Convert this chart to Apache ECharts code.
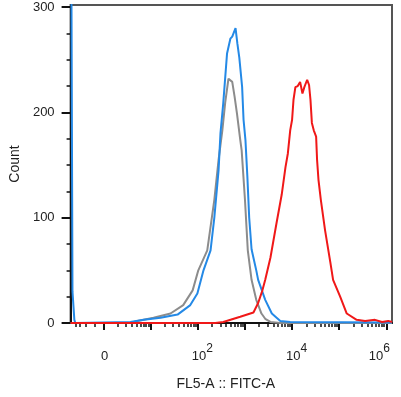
<!DOCTYPE html>
<html lang="en">
<head>
    <meta charset="UTF-8">
    <title>FITC histogram</title>
    <script src="https://cdn.jsdelivr.net/npm/echarts@6/dist/echarts.min.js"></script>
    <style>
        body { margin: 0; background: #fff; }
    </style>
</head>
<body>
    <div id="main" style="width: 401px;height:397px;"></div>
    <script type="text/javascript">
        // x is in display units of the biexponential axis: 0 -> "0", 1 -> 10^1, 2 -> 10^2 ...
        var greyData = [
            [-0.70, 0], [0.57, 0], [0.72, 2], [1.06, 5], [1.42, 9], [1.69, 17], [1.89, 31],
            [2.01, 50], [2.20, 69], [2.35, 117], [2.44, 155], [2.52, 183], [2.58, 209],
            [2.65, 232], [2.73, 229], [2.78, 215], [2.83, 199], [2.90, 174], [2.93, 164],
            [3.00, 117], [3.06, 69], [3.14, 41], [3.24, 22], [3.35, 9], [3.43, 4],
            [3.54, 1], [3.75, 0], [6.12, 0]
        ];
        var blueData = [
            [-0.69, 420], [-0.66, 30], [-0.62, 3], [-0.60, 0], [0.57, 1], [0.85, 3],
            [1.21, 5], [1.57, 8], [1.84, 17], [1.99, 28], [2.12, 50], [2.27, 69],
            [2.35, 100], [2.44, 145], [2.48, 180], [2.54, 209], [2.62, 256], [2.69, 270],
            [2.73, 272], [2.80, 280], [2.84, 265], [2.88, 252], [2.94, 224], [2.97, 193],
            [3.01, 174], [3.05, 140], [3.09, 100], [3.14, 70], [3.20, 58], [3.24, 50],
            [3.28, 41], [3.43, 22], [3.57, 9], [3.75, 2], [3.96, 1], [6.12, 0.5]
        ];
        var redData = [
            [-0.70, 0], [2.37, 0], [2.54, 1], [2.90, 6], [3.18, 10], [3.28, 19], [3.37, 31],
            [3.43, 41], [3.54, 62], [3.67, 95], [3.78, 122], [3.86, 148], [3.91, 161],
            [3.96, 183], [4.00, 193], [4.03, 212], [4.07, 224], [4.12, 225], [4.17, 229],
            [4.22, 218], [4.26, 224], [4.32, 231], [4.36, 226], [4.39, 212], [4.42, 190],
            [4.46, 183], [4.51, 177], [4.53, 155], [4.56, 136], [4.61, 117], [4.70, 88],
            [4.81, 58], [4.87, 41], [5.02, 25], [5.16, 9], [5.37, 3], [5.55, 2],
            [5.76, 3], [5.91, 1], [6.04, 2], [6.12, 1]
        ];

        var yLabelValues = [0, 100, 200, 300];
        var yMinorValues = [25, 50, 75, 125, 150, 175, 225, 250, 275];
        var xLabelValues = [0, 2, 4, 6];
        var xLabelExps = ['', '2', '4', '6'];
        var xMajorValues = [0, 1, 2, 3, 4, 5, 6];
        var xNegMinor = [-0.60, -0.50, -0.37, -0.19];

        var xMin = -0.70, xMax = 6.12;
        var yMin = 0, yMax = 302;

        // log minor ticks inside each decade
        var xMinorValues = xNegMinor.slice();
        for (var k = 0; k < 6; k++) {
            for (var m = 2; m <= 9; m++) {
                xMinorValues.push(k + Math.log10(m));
            }
        }

        var font = 'Liberation Sans, Arial, sans-serif';
        var myChart = echarts.init(document.getElementById('main'));

        var option = {
            animation: false,
            grid: {
                left: 70, right: 9, top: 5, bottom: 74,
                show: true,
                borderColor: '#555',
                borderWidth: 2
            },
            xAxis: [
                {
                    type: 'value', position: 'bottom', min: xMin, max: xMax,
                    splitLine: { show: false },
                    name: 'FL5-A :: FITC-A',
                    nameLocation: 'middle',
                    nameGap: 54,
                    nameTextStyle: { fontFamily: font, fontSize: 14, color: '#222', padding: [0, 11, 0, 0] },
                    axisLine: { onZero: false, lineStyle: { color: '#111', width: 2 } },
                    axisTick: { customValues: xMajorValues, length: 7, lineStyle: { color: '#111', width: 2 } },
                    axisLabel: {
                        customValues: xLabelValues,
                        margin: 17,
                        formatter: function (v) {
                            var i = xLabelValues.indexOf(v);
                            if (i <= 0) return '{z|0}';
                            if (i === xLabelValues.length - 1) return '{br|10}{sr|' + xLabelExps[i] + '}';
                            return '{b|10}{s|' + xLabelExps[i] + '}';
                        },
                        rich: {
                            z: { fontFamily: font, fontSize: 13, color: '#222', padding: [10, 0, 0, 2] },
                            b: { fontFamily: font, fontSize: 13, color: '#222', padding: [10, 0, 0, 9] },
                            s: { fontFamily: font, fontSize: 12, color: '#222', padding: [0, 0, 6, 0] },
                            br: { fontFamily: font, fontSize: 13, color: '#222', padding: [10, 0, 0, 0] },
                            sr: { fontFamily: font, fontSize: 12, color: '#222', padding: [0, 14, 6, 0] }
                        }
                    }
                },
                {
                    type: 'value', position: 'bottom', min: xMin, max: xMax,
                    splitLine: { show: false },
                    axisLine: { show: false, onZero: false },
                    axisTick: { customValues: xMinorValues, length: 4, lineStyle: { color: '#111', width: 1.5 } },
                    axisLabel: { show: false }
                }
            ],
            yAxis: [
                {
                    type: 'value', position: 'left', min: yMin, max: yMax,
                    splitLine: { show: false },
                    name: 'Count',
                    nameLocation: 'middle',
                    nameGap: 39,
                    nameTextStyle: { fontFamily: font, fontSize: 14, color: '#222' },
                    axisLine: { show: true, onZero: false, lineStyle: { color: '#111', width: 2 } },
                    axisTick: { customValues: yLabelValues, length: 9, lineStyle: { color: '#111', width: 2 } },
                    axisLabel: {
                        customValues: yLabelValues,
                        margin: 16,
                        fontFamily: font, fontSize: 13, color: '#222'
                    }
                },
                {
                    type: 'value', position: 'left', min: yMin, max: yMax,
                    splitLine: { show: false },
                    axisLine: { show: false, onZero: false },
                    axisTick: { customValues: yMinorValues, length: 4, lineStyle: { color: '#111', width: 1.5 } },
                    axisLabel: { show: false }
                }
            ],
            series: [
                {
                    name: 'grey', type: 'line', data: greyData, symbol: 'none',
                    lineStyle: { color: '#8c8c8c', width: 2 }
                },
                {
                    name: 'blue', type: 'line', data: blueData, symbol: 'none',
                    lineStyle: { color: '#2489e6', width: 2 }
                },
                {
                    name: 'red', type: 'line', data: redData, symbol: 'none',
                    lineStyle: { color: '#f01818', width: 2 }
                }
            ]
        };
        myChart.setOption(option);
    </script>
</body>
</html>
